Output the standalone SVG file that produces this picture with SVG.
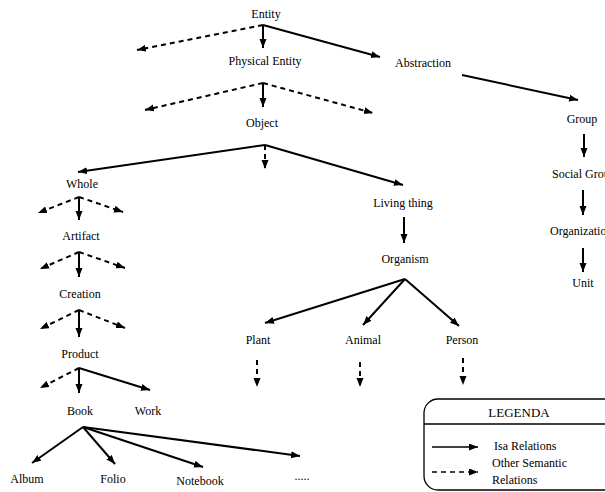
<svg xmlns="http://www.w3.org/2000/svg" width="605" height="492" viewBox="0 0 605 492">
<defs>
<marker id="ah" markerUnits="userSpaceOnUse" markerWidth="10" markerHeight="8" refX="9" refY="3.5" orient="auto">
<path d="M0,0 L9,3.5 L0,7 z" fill="#000"/>
</marker>
</defs>
<style>
text{font-family:"Liberation Serif","Times New Roman",serif;font-size:12px;fill:#000}
.c{text-anchor:middle}
.isa{stroke:#000;stroke-width:2;fill:none;marker-end:url(#ah)}
.oth{stroke:#000;stroke-width:2;fill:none;stroke-dasharray:5,4;marker-end:url(#ah)}
</style>
<rect width="605" height="492" fill="#fff"/>
<g id="connectors">
<line class="isa" x1="263" y1="25" x2="263" y2="48"/>
<line class="isa" x1="263" y1="25" x2="380" y2="57"/>
<line class="oth" x1="263" y1="25" x2="137" y2="50"/>
<line class="isa" x1="462" y1="75" x2="578" y2="100"/>
<line class="isa" x1="584" y1="134" x2="584" y2="157"/>
<line class="isa" x1="583" y1="190" x2="583" y2="215"/>
<line class="isa" x1="583" y1="248" x2="583" y2="272"/>
<line class="isa" x1="263" y1="83" x2="263" y2="107"/>
<line class="oth" x1="263" y1="83" x2="145" y2="110"/>
<line class="oth" x1="263" y1="83" x2="373" y2="113"/>
<line class="isa" x1="265" y1="145" x2="78" y2="172"/>
<line class="isa" x1="265" y1="145" x2="403" y2="185"/>
<line class="oth" x1="265" y1="145" x2="265" y2="169"/>
<line class="isa" x1="79" y1="197" x2="79" y2="220"/>
<line class="oth" x1="79" y1="197" x2="38" y2="213"/>
<line class="oth" x1="79" y1="197" x2="123" y2="212"/>
<line class="isa" x1="79" y1="252" x2="79" y2="277"/>
<line class="oth" x1="79" y1="252" x2="40" y2="269"/>
<line class="oth" x1="79" y1="252" x2="125" y2="268"/>
<line class="isa" x1="79" y1="310" x2="79" y2="337"/>
<line class="oth" x1="79" y1="310" x2="40" y2="329"/>
<line class="oth" x1="79" y1="310" x2="125" y2="328"/>
<line class="isa" x1="79" y1="368" x2="79" y2="393"/>
<line class="isa" x1="79" y1="368" x2="150" y2="390"/>
<line class="oth" x1="79" y1="368" x2="40" y2="388"/>
<line class="isa" x1="404" y1="217" x2="404" y2="243"/>
<line class="isa" x1="405" y1="279" x2="265" y2="323"/>
<line class="isa" x1="405" y1="279" x2="363" y2="325"/>
<line class="isa" x1="405" y1="279" x2="459" y2="326"/>
<line class="oth" x1="257" y1="360" x2="257" y2="387"/>
<line class="oth" x1="360" y1="362" x2="360" y2="387"/>
<line class="oth" x1="463" y1="358" x2="463" y2="385"/>
<line class="isa" x1="83" y1="427" x2="32" y2="463"/>
<line class="isa" x1="83" y1="427" x2="115" y2="464"/>
<line class="isa" x1="83" y1="427" x2="203" y2="467"/>
<line class="isa" x1="83" y1="427" x2="300" y2="456"/>
</g>
<g id="entity"><text class="c" x="266" y="18">Entity</text></g>
<g id="physical-entity"><text class="c" x="265" y="65">Physical Entity</text></g>
<g id="abstraction"><text class="c" x="423" y="67">Abstraction</text></g>
<g id="object"><text class="c" x="262" y="127">Object</text></g>
<g id="group"><text class="c" x="582" y="123">Group</text></g>
<g id="social-group"><text x="552" y="178">Social Group</text></g>
<g id="organization"><text x="550" y="235">Organization</text></g>
<g id="unit"><text class="c" x="583" y="287">Unit</text></g>
<g id="whole"><text class="c" x="82" y="188">Whole</text></g>
<g id="artifact"><text class="c" x="81" y="240">Artifact</text></g>
<g id="creation"><text class="c" x="80" y="298">Creation</text></g>
<g id="product"><text class="c" x="80" y="358">Product</text></g>
<g id="book"><text class="c" x="80" y="415">Book</text></g>
<g id="work"><text class="c" x="148" y="415">Work</text></g>
<g id="album"><text class="c" x="27" y="483">Album</text></g>
<g id="folio"><text class="c" x="113" y="483">Folio</text></g>
<g id="notebook"><text class="c" x="200" y="485">Notebook</text></g>
<g id="more"><text class="c" x="302" y="480">.....</text></g>
<g id="living-thing"><text class="c" x="403" y="207">Living thing</text></g>
<g id="organism"><text class="c" x="405" y="263">Organism</text></g>
<g id="plant"><text class="c" x="258" y="344">Plant</text></g>
<g id="animal"><text class="c" x="363" y="344">Animal</text></g>
<g id="person"><text class="c" x="462" y="344">Person</text></g>
<g id="legend">
<rect x="424" y="399" width="200" height="91" rx="14" fill="#fff" stroke="#000" stroke-width="1.3"/>
<line x1="424" y1="424" x2="605" y2="424" stroke="#000" stroke-width="1.3"/>
<text class="c" x="519" y="417" style="font-size:13px">LEGENDA</text>
<line x1="432" y1="447" x2="478" y2="447" stroke="#000" stroke-width="1.6" marker-end="url(#ah)"/>
<line x1="432" y1="472" x2="478" y2="472" stroke="#000" stroke-width="1.6" stroke-dasharray="5,4" marker-end="url(#ah)"/>
<text x="494" y="450">Isa Relations</text>
<text x="492" y="467">Other Semantic</text>
<text x="492" y="484">Relations</text>
</g>
</svg>
